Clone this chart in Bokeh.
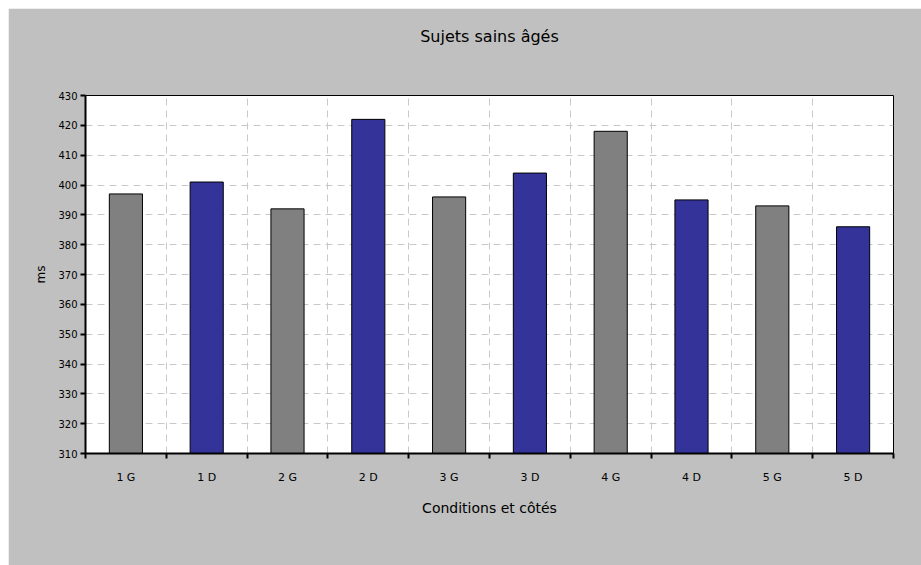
from bokeh.plotting import figure
from bokeh.models import FixedTicker, Range1d, Title
from bokeh.embed import file_html
from bokeh.resources import INLINE

categories = ["1 G", "1 D", "2 G", "2 D", "3 G", "3 D", "4 G", "4 D", "5 G", "5 D"]
values = [397, 401, 392, 422, 396, 404, 418, 395, 393, 386]
colors = ["#808080", "#333399"] * 5
y_ticks = list(range(310, 431, 10))

n = len(categories)
centers = [i + 0.5 for i in range(n)]
bounds = [float(i) for i in range(n + 1)]

FONT = "DejaVu Sans"

p = figure(width=913, height=557, output_backend="svg", toolbar_location=None,
           x_range=Range1d(0, n), y_range=Range1d(310, 430),
           min_border_left=77, min_border_right=28, min_border_top=87, min_border_bottom=112)
p.margin = (8, 0, 0, 8)

p.background_fill_color = "white"
p.border_fill_color = "#C0C0C0"
p.outline_line_color = "black"
p.outline_line_width = 1

p.vbar(x=centers, top=values, bottom=310, width=0.41, fill_color=colors,
       line_color="black", line_width=1)

# spacer between frame and title
spacer = Title(text=" ", text_font_size="1px", standoff=42)
p.add_layout(spacer, "above")

p.title.text = "Sujets sains âgés"
p.title.align = "center"
p.title.text_font = FONT
p.title.text_font_size = "16px"
p.title.text_font_style = "normal"
p.title.text_color = "black"
p.title.standoff = 10

# x axis
xa = p.xaxis[0]
xa.ticker = FixedTicker(ticks=centers, minor_ticks=bounds)
xa.major_label_overrides = {c: lab for c, lab in zip(centers, categories)}
xa.major_tick_out = 0
xa.major_tick_in = 0
xa.minor_tick_out = 5
xa.minor_tick_in = 0
xa.minor_tick_line_color = "black"
xa.minor_tick_line_width = 2
xa.axis_line_width = 2
xa.axis_line_color = "black"
xa.major_label_text_font = FONT
xa.major_label_text_font_size = "11px"
xa.major_label_text_color = "black"
xa.major_label_standoff = 12
xa.axis_label = "Conditions et côtés"
xa.axis_label_text_font = FONT
xa.axis_label_text_font_size = "14px"
xa.axis_label_text_font_style = "normal"
xa.axis_label_text_color = "black"
xa.axis_label_standoff = 13

# y axis
ya = p.yaxis[0]
ya.ticker = FixedTicker(ticks=y_ticks)
ya.major_tick_out = 5
ya.major_tick_in = 0
ya.minor_tick_out = 0
ya.minor_tick_in = 0
ya.major_tick_line_width = 2
ya.axis_line_width = 2
ya.axis_line_color = "black"
ya.major_label_text_font = FONT
ya.major_label_text_font_size = "10px"
ya.major_label_text_color = "black"
ya.major_label_standoff = 3
ya.axis_label = "ms"
ya.axis_label_text_font = FONT
ya.axis_label_text_font_size = "12px"
ya.axis_label_text_font_style = "normal"
ya.axis_label_text_color = "black"
ya.axis_label_standoff = 7

# grids
p.xgrid.ticker = FixedTicker(ticks=bounds)
p.xgrid.grid_line_color = "#C8C8C8"
p.xgrid.grid_line_dash = "7 5"
p.xgrid.grid_line_width = 1
p.ygrid.ticker = FixedTicker(ticks=y_ticks)
p.ygrid.grid_line_color = "#C8C8C8"
p.ygrid.grid_line_dash = "7 5"
p.ygrid.grid_line_width = 1

open("out.html", "w").write(file_html(p, INLINE))
